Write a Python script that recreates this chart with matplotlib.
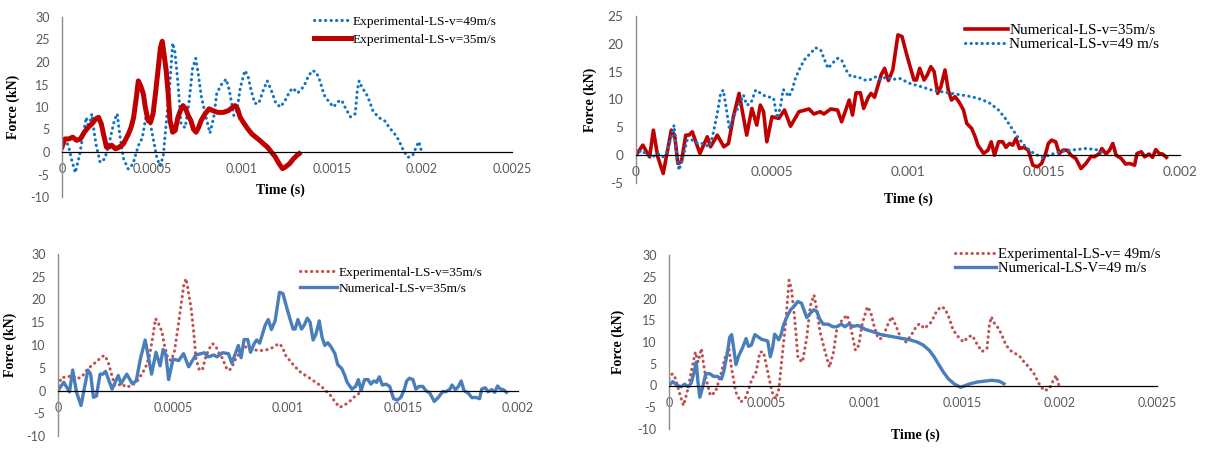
import matplotlib
matplotlib.use("Agg")
import matplotlib.pyplot as plt

# ---------- Force histories (time in s, force in kN) ----------
# Experimental, v = 49 m/s
exp49_t = [0, 1.7e-5, 3.5e-5, 5.2e-5, 7.4e-5, 9.7e-5, 1.17e-4, 1.35e-4, 1.49e-4, 1.66e-4,
           1.78e-4, 1.90e-4, 2.12e-4, 2.38e-4, 2.64e-4, 2.90e-4, 3.07e-4, 3.21e-4, 3.42e-4, 3.68e-4,
           3.94e-4, 4.25e-4, 4.46e-4, 4.66e-4, 4.84e-4, 5.06e-4, 5.28e-4, 5.46e-4, 5.63e-4, 5.80e-4,
           5.98e-4, 6.15e-4, 6.27e-4, 6.44e-4, 6.61e-4, 6.84e-4, 7.05e-4, 7.25e-4, 7.43e-4, 7.56e-4,
           7.74e-4, 8.00e-4, 8.22e-4, 8.43e-4, 8.60e-4, 8.86e-4, 9.12e-4, 9.29e-4, 9.55e-4, 9.72e-4,
           9.90e-4, 1.016e-3, 1.033e-3, 1.050e-3, 1.071e-3, 1.093e-3, 1.119e-3, 1.140e-3, 1.162e-3, 1.188e-3,
           1.214e-3, 1.240e-3, 1.266e-3, 1.283e-3, 1.309e-3, 1.344e-3, 1.369e-3, 1.392e-3, 1.413e-3, 1.433e-3,
           1.456e-3, 1.482e-3, 1.508e-3, 1.534e-3, 1.554e-3, 1.577e-3, 1.603e-3, 1.629e-3, 1.641e-3, 1.651e-3,
           1.668e-3, 1.689e-3, 1.706e-3, 1.727e-3, 1.758e-3, 1.793e-3, 1.819e-3, 1.845e-3, 1.870e-3, 1.896e-3,
           1.922e-3, 1.948e-3, 1.969e-3, 1.983e-3, 2.000e-3]
exp49_f = [1.5, 2.7, 1.5, -1.5, -4.6, -0.8, 3.8, 7.7, 5.4, 8.5,
           4.6, 1.5, -2.3, -1.5, 2.3, 6.9, 8.5, 3.8, -1.5, -3.8,
           -2.7, 1.5, 3.1, 7.7, 7.7, 3.1, -1.5, -3.1, -0.8, 6.9,
           14.6, 24.2, 22.3, 15.4, 6.2, 5.4, 10.8, 18.5, 20.8, 17.7,
           12.3, 7.7, 4.2, 7.7, 13.1, 15.0, 16.2, 13.8, 8.1, 9.2,
           14.2, 18.1, 16.9, 13.8, 10.8, 10.8, 13.8, 15.8, 13.8, 10.8,
           10.0, 11.5, 13.5, 14.2, 13.1, 14.6, 16.9, 18.1, 17.7, 15.8,
           12.7, 11.2, 10.0, 11.2, 11.5, 9.6, 7.8, 8.5, 13.8, 15.8,
           14.2, 13.1, 11.5, 9.2, 7.7, 6.9, 5.4, 4.2, 2.7, 0.4,
           -1.2, -0.8, 1.2, 2.3, -0.3]

# Experimental, v = 35 m/s
exp35_t = [0, 1.6e-5, 3.8e-5, 5.9e-5, 8.1e-5, 1.02e-4, 1.24e-4, 1.46e-4, 1.67e-4, 1.89e-4,
           2.03e-4, 2.18e-4, 2.32e-4, 2.47e-4, 2.61e-4, 2.76e-4, 2.97e-4, 3.19e-4, 3.41e-4, 3.55e-4,
           3.69e-4, 3.84e-4, 3.98e-4, 4.13e-4, 4.24e-4, 4.37e-4, 4.52e-4, 4.63e-4, 4.78e-4, 4.92e-4,
           5.06e-4, 5.21e-4, 5.35e-4, 5.47e-4, 5.57e-4, 5.67e-4, 5.79e-4, 5.90e-4, 6.00e-4, 6.15e-4,
           6.29e-4, 6.44e-4, 6.58e-4, 6.72e-4, 6.87e-4, 7.01e-4, 7.16e-4, 7.30e-4, 7.45e-4, 7.59e-4,
           7.73e-4, 7.95e-4, 8.17e-4, 8.38e-4, 8.67e-4, 8.96e-4, 9.25e-4, 9.47e-4, 9.61e-4, 9.75e-4,
           9.90e-4, 1.012e-3, 1.033e-3, 1.055e-3, 1.076e-3, 1.098e-3, 1.120e-3, 1.141e-3, 1.163e-3, 1.185e-3,
           1.206e-3, 1.225e-3, 1.242e-3, 1.264e-3, 1.286e-3, 1.307e-3, 1.317e-3]
exp35_f = [1.1, 2.9, 2.9, 3.3, 2.6, 2.9, 4.4, 5.5, 6.3, 7.4,
           7.7, 6.3, 3.7, 1.1, 1.1, 1.5, 0.7, 1.1, 1.8, 2.9,
           4.0, 5.5, 7.7, 12.1, 15.8, 14.7, 12.9, 9.9, 7.0, 6.6,
           8.5, 13.6, 18.8, 23.2, 24.6, 21.7, 18.0, 12.9, 7.0, 4.4,
           4.8, 7.7, 9.2, 10.3, 9.6, 8.1, 7.0, 5.1, 4.4, 5.5,
           7.0, 8.5, 9.6, 9.2, 8.8, 8.8, 9.2, 9.9, 10.3, 9.6,
           7.7, 6.3, 5.1, 4.0, 3.3, 2.6, 1.8, 1.1, 0.0, -1.1,
           -2.6, -3.7, -3.3, -2.6, -1.5, -0.7, -0.4]

# Numerical, v = 35 m/s
num35_t = [0, 2.5e-5, 5.0e-5, 6.4e-5, 8.0e-5, 1.0e-4, 1.30e-4, 1.42e-4, 1.54e-4, 1.67e-4,
           1.83e-4, 1.95e-4, 2.07e-4, 2.35e-4, 2.62e-4, 2.74e-4, 2.99e-4, 3.23e-4, 3.40e-4, 3.58e-4,
           3.79e-4, 4.07e-4, 4.26e-4, 4.44e-4, 4.57e-4, 4.69e-4, 4.81e-4, 5.00e-4, 5.25e-4, 5.46e-4,
           5.68e-4, 5.99e-4, 6.36e-4, 6.54e-4, 6.77e-4, 6.91e-4, 7.16e-4, 7.41e-4, 7.56e-4, 7.84e-4,
           7.96e-4, 8.09e-4, 8.25e-4, 8.37e-4, 8.54e-4, 8.64e-4, 8.77e-4, 9.01e-4, 9.14e-4, 9.28e-4,
           9.44e-4, 9.63e-4, 9.78e-4, 9.94e-4, 1.006e-3, 1.022e-3, 1.031e-3, 1.043e-3, 1.059e-3, 1.071e-3,
           1.084e-3, 1.096e-3, 1.109e-3, 1.121e-3, 1.136e-3, 1.148e-3, 1.160e-3, 1.173e-3, 1.187e-3, 1.204e-3,
           1.216e-3, 1.234e-3, 1.247e-3, 1.257e-3, 1.278e-3, 1.294e-3, 1.306e-3, 1.318e-3, 1.333e-3, 1.348e-3,
           1.360e-3, 1.373e-3, 1.385e-3, 1.397e-3, 1.410e-3, 1.426e-3, 1.442e-3, 1.459e-3, 1.475e-3, 1.491e-3,
           1.506e-3, 1.516e-3, 1.528e-3, 1.543e-3, 1.556e-3, 1.570e-3, 1.586e-3, 1.599e-3, 1.617e-3, 1.636e-3,
           1.654e-3, 1.673e-3, 1.685e-3, 1.704e-3, 1.713e-3, 1.728e-3, 1.741e-3, 1.753e-3, 1.765e-3, 1.784e-3,
           1.800e-3, 1.815e-3, 1.833e-3, 1.842e-3, 1.858e-3, 1.870e-3, 1.886e-3, 1.899e-3, 1.911e-3, 1.923e-3,
           1.936e-3, 1.950e-3]
num35_f = [0, 1.8, -0.3, 4.5, -0.3, -3.3, 4.5, 3.6, -1.5, -1.2,
           3.6, 3.6, 4.2, 0.3, 3.3, 1.5, 3.6, 1.5, 2.1, 6.9,
           11.1, 3.6, 8.4, 5.4, 9.0, 7.8, 2.4, 6.9, 6.6, 8.1,
           5.2, 7.8, 8.3, 7.4, 7.8, 7.4, 8.3, 8.1, 6.0, 9.9,
           7.2, 11.2, 11.2, 8.4, 10.4, 11.1, 10.4, 14.4, 15.6, 13.4,
           15.3, 21.6, 21.3, 18.3, 16.2, 13.5, 13.5, 15.6, 13.5, 14.4,
           15.9, 15.0, 11.1, 12.3, 15.3, 11.7, 9.9, 10.5, 9.6, 8.1,
           5.7, 4.8, 3.3, 1.8, 0.3, 0.9, 2.4, 0.0, 2.4, 2.4,
           1.4, 2.1, 1.8, 3.0, 1.2, 1.4, 0.9, -1.8, -2.1, -1.5,
           0.3, 2.1, 2.7, 2.4, 0.3, 0.9, 0.9, 0.0, -0.6, -2.4,
           -1.5, -0.2, -0.3, 0.3, 1.2, 0.2, 0.9, 2.1, 0.0, -0.6,
           -1.6, -1.5, -1.8, 0.3, 0.6, -0.3, 0.2, -0.4, 1.0, 0.3,
           0.2, -0.4]

# Numerical, v = 49 m/s
num49_t = [0, 1.9e-5, 4.3e-5, 6.2e-5, 8.0e-5, 9.9e-5, 1.14e-4, 1.30e-4, 1.40e-4, 1.48e-4,
           1.58e-4, 1.73e-4, 1.88e-4, 2.10e-4, 2.28e-4, 2.47e-4, 2.69e-4, 2.81e-4, 2.99e-4, 3.11e-4,
           3.21e-4, 3.31e-4, 3.43e-4, 3.58e-4, 3.77e-4, 3.95e-4, 4.07e-4, 4.22e-4, 4.40e-4, 4.59e-4,
           4.75e-4, 4.94e-4, 5.06e-4, 5.19e-4, 5.31e-4, 5.41e-4, 5.49e-4, 5.62e-4, 5.74e-4, 5.86e-4,
           6.05e-4, 6.23e-4, 6.42e-4, 6.60e-4, 6.79e-4, 6.91e-4, 7.06e-4, 7.22e-4, 7.41e-4, 7.56e-4,
           7.72e-4, 7.90e-4, 8.15e-4, 8.40e-4, 8.58e-4, 8.83e-4, 9.01e-4, 9.20e-4, 9.44e-4, 9.69e-4,
           1.006e-3, 1.049e-3, 1.086e-3, 1.123e-3, 1.160e-3, 1.197e-3, 1.234e-3, 1.271e-3, 1.302e-3, 1.333e-3,
           1.358e-3, 1.382e-3, 1.407e-3, 1.432e-3, 1.463e-3, 1.494e-3, 1.518e-3, 1.543e-3, 1.580e-3, 1.617e-3,
           1.654e-3, 1.691e-3, 1.716e-3]
num49_f = [0, 0.9, 0, -0.3, 0.3, -0.3, 0.6, 3.3, 5.4, 0.9,
           -2.7, -0.3, 2.7, 2.7, 2.1, 2.1, 1.5, 3.3, 7.5, 11.1,
           11.7, 8.7, 4.8, 6.9, 8.7, 10.8, 9.0, 9.3, 11.7, 11.1,
           10.6, 10.4, 10.2, 6.6, 8.7, 11.8, 11.4, 10.5, 11.7, 13.8,
           15.9, 17.4, 18.3, 19.3, 18.9, 17.4, 15.6, 16.5, 17.4, 17.1,
           15.3, 14.1, 14.1, 13.5, 13.5, 14.1, 13.5, 14.1, 13.6, 13.8,
           12.9, 12.3, 11.7, 11.4, 11.1, 10.8, 10.5, 10.0, 9.3, 8.1,
           6.6, 4.8, 3.0, 1.5, 0.3, -0.4, 0.0, 0.4, 0.8, 1.0,
           1.2, 1.0, 0.4]

x_ticks_long = [0, 0.0005, 0.001, 0.0015, 0.002, 0.0025]
x_labels_long = ['0', '0.0005', '0.001', '0.0015', '0.002', '0.0025']
x_ticks_short = [0, 0.0005, 0.001, 0.0015, 0.002]
x_labels_short = ['0', '0.0005', '0.001', '0.0015', '0.002']

DARK_RED = '#C00000'
BRIGHT_BLUE = '#1273C4'
SOFT_RED = '#C0504D'
SOFT_BLUE = '#4A7EBB'
TICK_COLOR = '#595959'
SERIF = ['Liberation Serif', 'DejaVu Serif']
SANS = ['Lato', 'DejaVu Sans']

DOTS = (0, (0.1, 1.7))

W, H = 1205, 458

plt.rcParams['axes.unicode_minus'] = False


def make_axes(fig, left, top, right, bottom):
    """Axes box given in pixel edges of the figure (origin top-left)."""
    return fig.add_axes([left / W, 1 - bottom / H, (right - left) / W, (bottom - top) / H])


def style_axes(ax, ylim, ystep, xticks, xlabels, ylabel_x, time_pos=None, tick_size=9):
    ax.set_xlim(0, xticks[-1])
    ax.set_ylim(*ylim)
    ax.set_yticks(range(ylim[0], ylim[1] + 1, ystep))
    ax.set_xticks(xticks)
    ax.set_xticklabels(xlabels)
    for s in ('top', 'right'):
        ax.spines[s].set_visible(False)
    ax.spines['bottom'].set_position(('data', 0))
    ax.spines['bottom'].set_color('#000000')
    ax.spines['bottom'].set_linewidth(0.9)
    ax.spines['left'].set_color('#8C8C8C')
    ax.spines['left'].set_linewidth(1.0)
    ax.tick_params(axis='both', length=0, labelsize=tick_size, labelcolor=TICK_COLOR)
    ax.tick_params(axis='x', pad=8)
    ax.tick_params(axis='y', pad=9)
    for lab in ax.get_xticklabels() + ax.get_yticklabels():
        lab.set_family(SANS)
    ax.set_ylabel('Force (kN)', family=SERIF, fontweight='bold', fontsize=10)
    ax.yaxis.set_label_coords(ylabel_x, 0.5)
    if time_pos is not None:
        ax.text(time_pos[0], time_pos[1], 'Time (s)', transform=ax.transAxes,
                ha='center', va='center', family=SERIF, fontweight='bold', fontsize=10)
    ax.patch.set_alpha(0)


def add_legend(ax, anchor, spacing, size=9.6):
    ax.legend(loc='upper left', bbox_to_anchor=anchor, frameon=False, borderpad=0,
              borderaxespad=0, handlelength=2.8, handletextpad=0.1, labelspacing=spacing,
              prop={'family': SERIF, 'size': size})


fig = plt.figure(figsize=(W / 100, H / 100), dpi=100)

# ---------- Experimental: 49 m/s vs 35 m/s ----------
ax1 = make_axes(fig, 62, 17, 512, 197)
ax1.plot(exp49_t, exp49_f, color=BRIGHT_BLUE, lw=2.2, ls=DOTS, dash_capstyle='round',
         label='Experimental-LS-v=49m/s')
ax1.plot(exp35_t, exp35_f, color=DARK_RED, lw=3.6, label='Experimental-LS-v=35m/s')
style_axes(ax1, (-10, 30), 5, x_ticks_long, x_labels_long, -0.093, time_pos=(0.485, 0.04))
add_legend(ax1, (0.56, 1.01), 0.45)

# ---------- Numerical: 35 m/s vs 49 m/s ----------
ax2 = make_axes(fig, 636, 16, 1180, 183)
ax2.plot(num35_t, num35_f, color=DARK_RED, lw=2.6, label='Numerical-LS-v=35m/s')
ax2.plot(num49_t, num49_f, color=BRIGHT_BLUE, lw=2.2, ls=DOTS, dash_capstyle='round',
         label='Numerical-LS-v=49 m/s')
style_axes(ax2, (-5, 25), 5, x_ticks_short, x_labels_short, -0.072, time_pos=(0.5, -0.1),
           tick_size=9.8)
add_legend(ax2, (0.605, 0.955), 0.02, size=11)

# ---------- 35 m/s: experiment vs simulation ----------
ax3 = make_axes(fig, 58, 254, 518, 436)
ax3.plot(exp35_t, exp35_f, color=SOFT_RED, lw=2.2, ls=DOTS, dash_capstyle='round',
         label='Experimental-LS-v=35m/s')
ax3.plot(num35_t, num35_f, color=SOFT_BLUE, lw=2.4, label='Numerical-LS-v=35m/s')
style_axes(ax3, (-10, 30), 5, x_ticks_short, x_labels_short, -0.089)
add_legend(ax3, (0.526, 0.93), 0.25)

# ---------- 49 m/s: experiment vs simulation ----------
ax4 = make_axes(fig, 669, 255, 1157, 429)
ax4.plot(exp49_t, exp49_f, color=SOFT_RED, lw=2.2, ls=DOTS, dash_capstyle='round',
         label='Experimental-LS-v= 49m/s')
ax4.plot(num49_t, num49_f, color=SOFT_BLUE, lw=2.4, label='Numerical-LS-V=49 m/s')
style_axes(ax4, (-10, 30), 5, x_ticks_long, x_labels_long, -0.09, time_pos=(0.506, -0.035))
add_legend(ax4, (0.586, 1.04), 0.05, size=10.6)

fig.savefig('out.png', dpi=100)
